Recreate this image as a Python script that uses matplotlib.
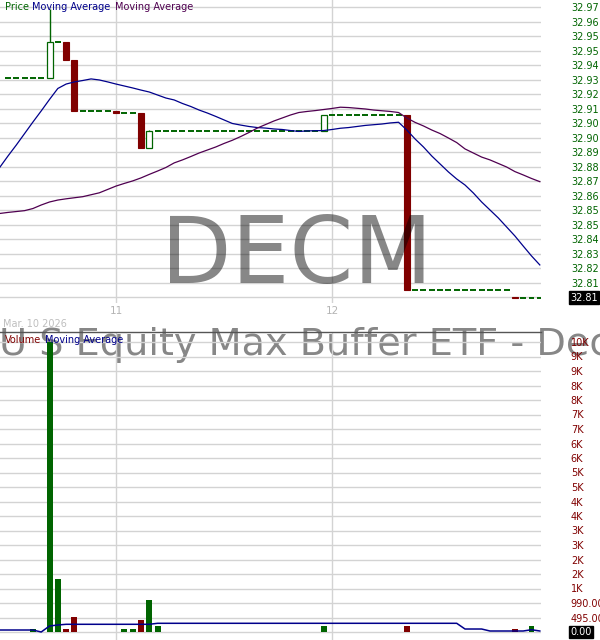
import numpy as np
import matplotlib
matplotlib.use('Agg')
import matplotlib.pyplot as plt

# 15-minute bars, index 0 = first bar of day 11, 26 bars per day
bar_pos = list(range(-13, 52))
opens = [32.930, 32.930, 32.930, 32.930, 32.930,
         32.930, 32.950, 32.950, 32.940,
         32.911, 32.911, 32.911, 32.911,
         32.911, 32.910, 32.910, 32.910, 32.890,
         32.900, 32.900, 32.900, 32.900, 32.900, 32.900, 32.900, 32.900, 32.900, 32.900,
         32.900, 32.900, 32.900, 32.900, 32.900, 32.900, 32.900, 32.900, 32.900, 32.900,
         32.900,
         32.909, 32.909, 32.909, 32.909, 32.909, 32.909, 32.909, 32.909, 32.909,
         32.909,
         32.810, 32.810, 32.810, 32.810, 32.810, 32.810, 32.810, 32.810, 32.810, 32.810, 32.810, 32.810,
         32.8057,
         32.8055, 32.8055, 32.8055]
closes = [32.930, 32.930, 32.930, 32.930, 32.930,
          32.950, 32.950, 32.940, 32.911,
          32.911, 32.911, 32.911, 32.911,
          32.910, 32.910, 32.910, 32.890, 32.900,
          32.900, 32.900, 32.900, 32.900, 32.900, 32.900, 32.900, 32.900, 32.900, 32.900,
          32.900, 32.900, 32.900, 32.900, 32.900, 32.900, 32.900, 32.900, 32.900, 32.900,
          32.909,
          32.909, 32.909, 32.909, 32.909, 32.909, 32.909, 32.909, 32.909, 32.909,
          32.810,
          32.810, 32.810, 32.810, 32.810, 32.810, 32.810, 32.810, 32.810, 32.810, 32.810, 32.810, 32.810,
          32.8055,
          32.8055, 32.8055, 32.8055]
highs = [32.930, 32.930, 32.930, 32.930, 32.930,
         32.969, 32.950, 32.950, 32.940,
         32.911, 32.911, 32.911, 32.911,
         32.911, 32.910, 32.910, 32.910, 32.9003,
         32.900, 32.900, 32.900, 32.900, 32.900, 32.900, 32.900, 32.900, 32.900, 32.900,
         32.900, 32.900, 32.900, 32.900, 32.900, 32.900, 32.900, 32.900, 32.900, 32.900,
         32.909,
         32.909, 32.909, 32.909, 32.909, 32.909, 32.909, 32.909, 32.909, 32.909,
         32.909,
         32.810, 32.810, 32.810, 32.810, 32.810, 32.810, 32.810, 32.810, 32.810, 32.810, 32.810, 32.810,
         32.8057,
         32.8055, 32.8055, 32.8055]
lows = [32.930, 32.930, 32.930, 32.930, 32.930,
        32.930, 32.950, 32.940, 32.911,
        32.911, 32.911, 32.911, 32.911,
        32.910, 32.910, 32.910, 32.890, 32.890,
        32.900, 32.900, 32.900, 32.900, 32.900, 32.900, 32.900, 32.900, 32.900, 32.900,
        32.900, 32.900, 32.900, 32.900, 32.900, 32.900, 32.900, 32.900, 32.900, 32.900,
        32.900,
        32.909, 32.909, 32.909, 32.909, 32.909, 32.909, 32.909, 32.909, 32.909,
        32.810,
        32.810, 32.810, 32.810, 32.810, 32.810, 32.810, 32.810, 32.810, 32.810, 32.810, 32.810, 32.810,
        32.8055,
        32.8055, 32.8055, 32.8055]
volumes = [0, 0, 0, 100, 0,
           9900, 1800, 100, 500,
           0, 0, 0, 0,
           0, 100, 100, 400, 1100,
           200, 0, 0, 0, 0, 0, 0, 0, 0, 0,
           0, 0, 0, 0, 0, 0, 0, 0, 0, 0,
           200,
           0, 0, 0, 0, 0, 0, 0, 0, 0,
           200,
           0, 0, 0, 0, 0, 0, 0, 0, 0, 0, 0, 0,
           100,
           0, 200, 0]

ma_pos = list(range(-14, 52))
ma_fast = [32.8791, 32.8856, 32.8918, 32.8983, 32.9048, 32.9111, 32.9176, 32.9238, 32.9263, 32.9275,
           32.9283, 32.9292, 32.9286, 32.9275, 32.9263, 32.9252, 32.9241, 32.9229, 32.9218, 32.9201,
           32.9184, 32.9173, 32.9153, 32.9136, 32.9116, 32.9099, 32.9080, 32.9060, 32.9040, 32.9031,
           32.9023, 32.9017, 32.9014, 32.9009, 32.9006, 32.9000, 32.8995, 32.8998, 32.8999, 32.9000,
           32.9006, 32.9013, 32.9017, 32.9023, 32.9029, 32.9033, 32.9037, 32.9043, 32.9047, 32.9003,
           32.8952, 32.8907, 32.8856, 32.8811, 32.8766, 32.8726, 32.8692, 32.8647, 32.8596, 32.8551,
           32.8506, 32.8455, 32.8404, 32.8347, 32.8291, 32.8240]
ma_slow = [32.8531, 32.8537, 32.8542, 32.8547, 32.8559, 32.8579, 32.8596, 32.8607, 32.8614, 32.8620,
           32.8626, 32.8637, 32.8648, 32.8667, 32.8686, 32.8701, 32.8715, 32.8732, 32.8752, 32.8771,
           32.8791, 32.8817, 32.8834, 32.8853, 32.8873, 32.8890, 32.8907, 32.8927, 32.8945, 32.8966,
           32.8989, 32.9014, 32.9034, 32.9054, 32.9071, 32.9088, 32.9102, 32.9108, 32.9113, 32.9119,
           32.9125, 32.9132, 32.9130, 32.9126, 32.9122, 32.9116, 32.9112, 32.9108, 32.9102, 32.9071,
           32.9046, 32.9026, 32.9003, 32.8983, 32.8958, 32.8932, 32.8896, 32.8873, 32.8850, 32.8834,
           32.8814, 32.8794, 32.8768, 32.8749, 32.8729, 32.8711]
vol_ma = [68, 68, 68, 68, 68, 0, 205, 239, 263, 263,
          263, 263, 263, 263, 263, 263, 263, 263, 263, 297,
          297, 297, 297, 297, 297, 297, 297, 297, 297, 297,
          297, 297, 297, 297, 297, 297, 297, 297, 297, 297,
          297, 297, 297, 297, 297, 297, 297, 297, 297, 297,
          297, 297, 297, 297, 297, 297, 102, 102, 102, 34,
          34, 34, 34, 34, 78, 34]

day_ticks = [0, 26]
day_labels = ['11', '12']
price_ticks = [32.9697, 32.9615, 32.9533, 32.9451, 32.9369, 32.9287, 32.9205, 32.9123, 32.9041, 32.8959,
               32.8877, 32.8795, 32.8713, 32.8631, 32.8549, 32.8467, 32.8385, 32.8303, 32.8221, 32.8139,
               32.8057]
price_labels = ['32.97', '32.96', '32.95', '32.95', '32.94', '32.93', '32.92', '32.91', '32.90', '32.90',
                '32.89', '32.88', '32.87', '32.86', '32.85', '32.85', '32.84', '32.83', '32.82', '32.81', '']
vol_ticks = [0, 495, 990, 1485, 1980, 2475, 2970, 3465, 3960, 4455, 4950,
             5445, 5940, 6435, 6930, 7425, 7920, 8415, 8910, 9405, 9900]
vol_labels = ['', '495.00', '990.00', '1K', '2K', '2K', '3K', '3K', '4K', '4K', '5K',
              '5K', '6K', '6K', '7K', '7K', '8K', '8K', '9K', '9K', '10K']

GREEN = '#006400'
RED = '#800000'
BLUE = '#00008B'
PURPLE = '#4F0050'
GRID = '#d3d3d3'

W, H = 600, 640


def rect(x0, y0, x1, y1):
    return [x0 / W, 1 - y1 / H, (x1 - x0) / W, (y1 - y0) / H]


def fxy(x, y):
    return x / W, 1 - y / H


fig = plt.figure(figsize=(6, 6.4), dpi=100)
ax = fig.add_axes(rect(0, 0, 541, 303))
axv = fig.add_axes(rect(0, 332, 541, 640))

bar_px = 8.31
xlim = (-116 / bar_px, (541 - 116) / bar_px)
bw = 0.72

# price panel
for x, o, h, l, c in zip(bar_pos, opens, highs, lows, closes):
    if c == o:
        ax.hlines(c, x - bw / 2, x + bw / 2, color=GREEN, lw=1.4, zorder=3)
        continue
    col = GREEN if c > o else RED
    ax.vlines(x, l, h, color=col, lw=1.0, zorder=2)
    if c > o:
        ax.bar(x, c - o, bottom=o, width=bw, facecolor='white', edgecolor=col, lw=0.9, zorder=3)
    else:
        ax.bar(x, o - c, bottom=c, width=bw, facecolor=col, edgecolor=col, lw=0.8, zorder=3)

ax.plot(ma_pos, ma_fast, color=BLUE, lw=0.9, zorder=4)
ax.plot(ma_pos, ma_slow, color=PURPLE, lw=0.9, zorder=4)

step = price_ticks[0] - price_ticks[1]
ax.set_ylim(price_ticks[-1] - step * 5.7 / 14.5, price_ticks[0] + step * 7.3 / 14.5)
ax.set_xlim(*xlim)
ax.yaxis.tick_right()
ax.set_yticks(price_ticks, price_labels)
ax.set_xticks(day_ticks, day_labels)
ax.tick_params(axis='y', length=0, pad=21.5, labelsize=7, labelcolor=GREEN)
ax.tick_params(axis='x', length=0, pad=2.5, labelsize=7.5, labelcolor='#b4b4b4')
ax.grid(True, color=GRID, lw=1.0)
ax.set_axisbelow(True)
for s in ax.spines.values():
    s.set_visible(False)
ax.set_facecolor('none')

ax.annotate('32.81', xy=(1, closes[-1]), xycoords=ax.get_yaxis_transform(),
            xytext=(29, 0), textcoords='offset pixels', ha='left', va='center',
            fontsize=7, color='white', annotation_clip=False,
            bbox=dict(boxstyle='square,pad=0.12', fc='black', ec='black'))

# volume panel
vcols = [GREEN if c >= o else RED for o, c in zip(opens, closes)]
axv.bar(bar_pos, volumes, width=bw, color=vcols, zorder=3)
axv.plot(ma_pos, vol_ma, color=BLUE, lw=1.1, zorder=4)
vstep = vol_ticks[1] - vol_ticks[0]
axv.set_ylim(-vstep * 8 / 14.5, vstep * 300 / 14.5)
axv.set_xlim(*xlim)
axv.yaxis.tick_right()
axv.set_yticks(vol_ticks, vol_labels)
axv.set_xticks(day_ticks, ['', ''])
axv.tick_params(axis='y', length=0, pad=21.5, labelsize=7, labelcolor=RED)
axv.tick_params(axis='x', length=0)
axv.grid(True, color=GRID, lw=1.0)
axv.set_axisbelow(True)
for k, s in axv.spines.items():
    s.set_visible(k == 'top')
axv.spines['top'].set_color('#555555')
axv.spines['top'].set_linewidth(1.0)
axv.set_facecolor('none')

axv.annotate('0.00', xy=(1, 0), xycoords=axv.get_yaxis_transform(),
             xytext=(29, 0), textcoords='offset pixels', ha='left', va='center',
             fontsize=7, color='white', annotation_clip=False,
             bbox=dict(boxstyle='square,pad=0.12', fc='black', ec='black'))

# legends and labels
fig.text(*fxy(4.7, 9.5), 'Price', color=GREEN, fontsize=7, va='baseline')
fig.text(*fxy(32, 9.5), 'Moving Average', color=BLUE, fontsize=7, va='baseline')
fig.text(*fxy(115, 9.5), 'Moving Average', color=PURPLE, fontsize=7, va='baseline')
fig.text(*fxy(4.6, 343), 'Volume', color=RED, fontsize=7, va='baseline', zorder=5)
fig.text(*fxy(45, 343), 'Moving Average', color=BLUE, fontsize=7, va='baseline', zorder=5)
fig.text(*fxy(3, 327.3), 'Mar. 10 2026', color='#bebebe', fontsize=7, va='baseline')

# watermarks
fig.text(*fxy(296.5, 283), 'DECM', fontsize=66, color='black', alpha=0.47,
         ha='center', va='baseline', zorder=6)
fig.text(*fxy(-1, 355), 'U S Equity Max Buffer ETF - December', fontsize=27.5,
         color='black', alpha=0.47, ha='left', va='baseline', zorder=-1)

fig.savefig('out.png', dpi=100, facecolor='white')
